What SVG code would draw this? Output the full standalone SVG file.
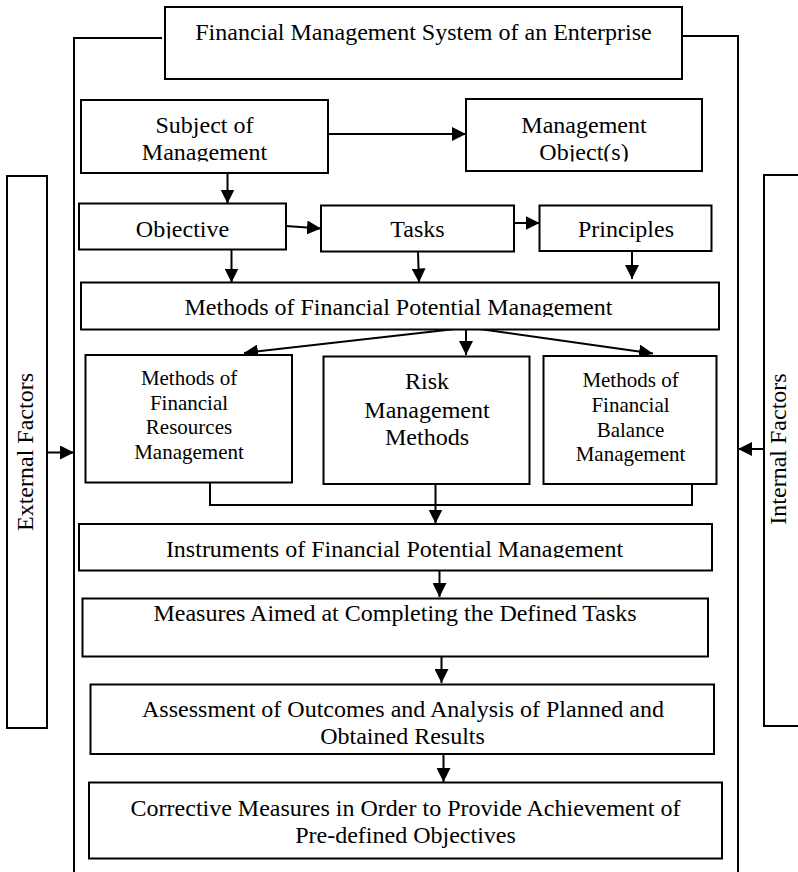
<svg xmlns="http://www.w3.org/2000/svg" width="798" height="872" viewBox="0 0 798 872">
<style>
.box{fill:#fff;stroke:#000;stroke-width:2}
.t{font-family:"Liberation Serif","Times New Roman",serif;font-size:24px;fill:#000;text-anchor:middle}
.s{font-size:21px}
.c{fill:none;stroke:#000;stroke-width:2}
</style>
<defs>
<marker id="ah" viewBox="0 0 10 10" refX="10" refY="5" markerUnits="userSpaceOnUse" markerWidth="14" markerHeight="14" orient="auto">
<path d="M0,0 L10,5 L0,10 z" fill="#000"/>
</marker>
<clipPath id="cSub" clipPathUnits="userSpaceOnUse"><rect x="82" y="101" width="245" height="60.5"/></clipPath>
<clipPath id="cObj" clipPathUnits="userSpaceOnUse"><rect x="467" y="100" width="234" height="61.5"/></clipPath>
<clipPath id="cObjective" clipPathUnits="userSpaceOnUse"><rect x="80" y="204" width="205" height="34.5"/></clipPath>
<clipPath id="cMeth" clipPathUnits="userSpaceOnUse"><rect x="82" y="284" width="636" height="33"/></clipPath>
<clipPath id="cInst" clipPathUnits="userSpaceOnUse"><rect x="80" y="525" width="631" height="33"/></clipPath>
<clipPath id="cAss" clipPathUnits="userSpaceOnUse"><rect x="91" y="685" width="622" height="60.5"/></clipPath>
</defs>

<g id="connectors">
<path class="c" d="M162,38 H74 V872"/>
<path class="c" d="M682,36 H738 V872"/>
<path class="c" d="M47,452.5 H74" marker-end="url(#ah)"/>
<path class="c" d="M764,449 H738" marker-end="url(#ah)"/>
<path class="c" d="M328,134 H466" marker-end="url(#ah)"/>
<path class="c" d="M227.5,173 V203.5" marker-end="url(#ah)"/>
<path class="c" d="M286,226 L321,228.5" marker-end="url(#ah)"/>
<path class="c" d="M514,223 H539.5" marker-end="url(#ah)"/>
<path class="c" d="M231.5,249.5 V282.5" marker-end="url(#ah)"/>
<path class="c" d="M418,252 L419,282.5" marker-end="url(#ah)"/>
<path class="c" d="M632,251 V279" marker-end="url(#ah)"/>
<path class="c" d="M468.5,327.5 L244,353" marker-end="url(#ah)"/>
<path class="c" d="M466,327.5 V355" marker-end="url(#ah)"/>
<path class="c" d="M468.5,327.5 L653,353.5" marker-end="url(#ah)"/>
<path class="c" d="M210,482.5 V505 H692 V484"/>
<path class="c" d="M435.5,484 V523.5" marker-end="url(#ah)"/>
<path class="c" d="M439.5,568 V597" marker-end="url(#ah)"/>
<path class="c" d="M441.5,652 V683" marker-end="url(#ah)"/>
<path class="c" d="M443.5,754 V782" marker-end="url(#ah)"/>
</g>

<g id="title">
<rect class="box" x="165" y="7" width="517" height="72"/>
<text class="t" x="423.5" y="40">Financial Management System of an Enterprise</text>
</g>

<g id="external">
<rect class="box" x="7" y="176" width="40" height="552"/>
<text class="t" transform="translate(33,452) rotate(-90)">External Factors</text>
</g>

<g id="internal">
<rect class="box" x="764" y="175" width="50" height="551"/>
<text class="t" transform="translate(786,449) rotate(-90)">Internal Factors</text>
</g>

<g id="subject">
<rect class="box" x="81" y="100" width="247" height="73"/>
<g clip-path="url(#cSub)">
<text class="t" x="204.5" y="133">Subject of</text>
<text class="t" x="204.5" y="160">Management</text>
</g>
</g>

<g id="object">
<rect class="box" x="466" y="99" width="236" height="72"/>
<g clip-path="url(#cObj)">
<text class="t" x="584" y="133">Management</text>
<text class="t" x="584" y="160">Object(s)</text>
</g>
</g>

<g id="objective">
<rect class="box" x="79" y="203.5" width="207" height="46"/>
<text class="t" x="182.5" y="237" clip-path="url(#cObjective)">Objective</text>
</g>

<g id="tasks">
<rect class="box" x="321" y="205.5" width="193" height="46"/>
<text class="t" x="417.5" y="237">Tasks</text>
</g>

<g id="principles">
<rect class="box" x="539.5" y="205.5" width="172" height="45.5"/>
<text class="t" x="626" y="237">Principles</text>
</g>

<g id="methods">
<rect class="box" x="81" y="282.5" width="638" height="47"/>
<text class="t" x="398.5" y="315" clip-path="url(#cMeth)">Methods of Financial Potential Management</text>
</g>

<g id="resources">
<rect class="box" x="85.5" y="355" width="206.5" height="127.5"/>
<text class="t s" x="189" y="385">Methods of</text>
<text class="t s" x="189" y="409.5">Financial</text>
<text class="t s" x="189" y="434">Resources</text>
<text class="t s" x="189" y="459">Management</text>
</g>

<g id="risk">
<rect class="box" x="323.5" y="356.5" width="206" height="127.5"/>
<text class="t" x="427" y="389">Risk</text>
<text class="t" x="427" y="418">Management</text>
<text class="t" x="427" y="445">Methods</text>
</g>

<g id="balance">
<rect class="box" x="543.5" y="356" width="173" height="128"/>
<text class="t s" x="630.5" y="386.5">Methods of</text>
<text class="t s" x="630.5" y="411.5">Financial</text>
<text class="t s" x="630.5" y="436.5">Balance</text>
<text class="t s" x="630.5" y="460.5">Management</text>
</g>

<g id="instruments">
<rect class="box" x="79" y="524" width="633" height="46.5"/>
<text class="t" x="394.5" y="556.5" clip-path="url(#cInst)">Instruments of Financial Potential Management</text>
</g>

<g id="measures">
<rect class="box" x="82.5" y="598.5" width="625.5" height="58"/>
<text class="t" x="395" y="620.5">Measures Aimed at Completing the Defined Tasks</text>
</g>

<g id="assessment">
<rect class="box" x="90.5" y="684.5" width="623.5" height="69.5"/>
<g clip-path="url(#cAss)">
<text class="t" x="403" y="716.5">Assessment of Outcomes and Analysis of Planned and</text>
<text class="t" x="402.5" y="743.5">Obtained Results</text>
</g>
</g>

<g id="corrective">
<rect class="box" x="89" y="782.5" width="633" height="76"/>
<text class="t" x="405.5" y="816">Corrective Measures in Order to Provide Achievement of</text>
<text class="t" x="405.5" y="843">Pre-defined Objectives</text>
</g>
</svg>
